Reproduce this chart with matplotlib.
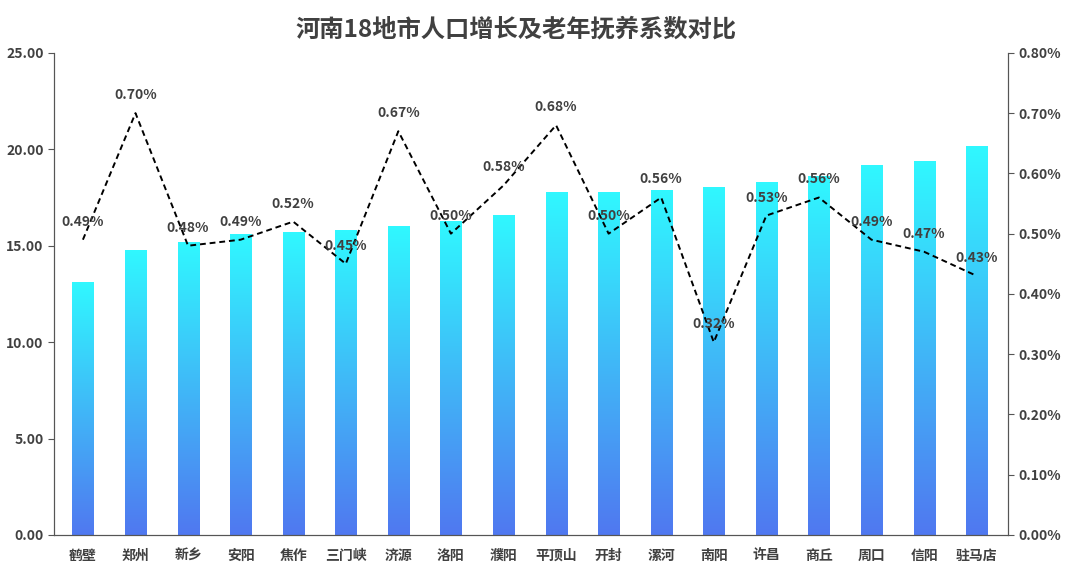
import numpy as np
import matplotlib
matplotlib.use("Agg")
import matplotlib.pyplot as plt
from matplotlib.colors import LinearSegmentedColormap
from matplotlib.ticker import FuncFormatter

plt.rcParams['font.family'] = ['Noto Sans CJK SC', 'DejaVu Sans']

cities = ['鹤壁', '郑州', '新乡', '安阳', '焦作', '三门峡', '济源', '洛阳', '濮阳',
          '平顶山', '开封', '漯河', '南阳', '许昌', '商丘', '周口', '信阳', '驻马店']
dependency = [13.1, 14.8, 15.2, 15.6, 15.7, 15.8, 16.0, 16.3, 16.6,
              17.8, 17.8, 17.9, 18.05, 18.3, 18.6, 19.2, 19.4, 20.15]
growth = [0.49, 0.70, 0.48, 0.49, 0.52, 0.45, 0.67, 0.50, 0.58,
          0.68, 0.50, 0.56, 0.32, 0.53, 0.56, 0.49, 0.47, 0.43]

txt = '#404040'
fig = plt.figure(figsize=(10.8, 5.76), dpi=100)
ax1 = fig.add_axes([0.05, 0.0712, 0.883, 0.837])
ax2 = ax1.twinx()

x = np.arange(len(cities))
w = 0.4
cmap = LinearSegmentedColormap.from_list('g', ['#5078f0', '#30f8ff'])
grad = np.linspace(0, 1, 256).reshape(-1, 1)

# invisible bars for reference, then gradient images clipped to them
bars = ax1.bar(x, dependency, width=w, color='none', edgecolor='none')
for b in bars:
    im = ax1.imshow(grad, cmap=cmap, origin='lower', aspect='auto',
                    extent=[b.get_x(), b.get_x() + w, 0, b.get_height()], zorder=2)
    im.set_clip_path(b)

ax1.set_xlim(-0.55, len(cities) - 0.41)
ax1.set_ylim(0, 25)
ax1.set_yticks(np.arange(0, 25.1, 5))
ax1.yaxis.set_major_formatter(FuncFormatter(lambda v, p: '%.2f' % v))
ax1.set_xticks(x)
ax1.set_xticklabels(cities)

ax2.plot(x, [g / 100 for g in growth], color='black', linestyle=(0, (3, 2)), lw=1.4, zorder=3)
for xi, g in zip(x, growth):
    ax2.annotate('%.2f%%' % g, (xi, g / 100), xytext=(0, 13), textcoords='offset points',
                 ha='center', va='center', fontsize=10, fontweight='bold', color=txt)
ax2.set_ylim(0, 0.008)
ax2.set_yticks(np.arange(0, 0.00801, 0.001))
ax2.yaxis.set_major_formatter(FuncFormatter(lambda v, p: '%.2f%%' % (v * 100)))

for ax in (ax1, ax2):
    ax.spines['top'].set_visible(False)
    for s in ('left', 'right', 'bottom'):
        ax.spines[s].set_color('#555555')
    ax.tick_params(colors='#555555', labelcolor=txt, labelsize=10, length=4)
    for lab in ax.get_yticklabels() + ax.get_xticklabels():
        lab.set_fontweight('bold')
ax1.tick_params(axis='x', length=0, pad=10)
ax1.set_zorder(1)
ax2.set_zorder(2)
ax2.patch.set_visible(False)

fig.text(0.478, 0.948, '河南18地市人口增长及老年抚养系数对比', ha='center', va='center',
         fontsize=17.5, fontweight='bold', color=txt)

fig.savefig('out.png', dpi=100)
